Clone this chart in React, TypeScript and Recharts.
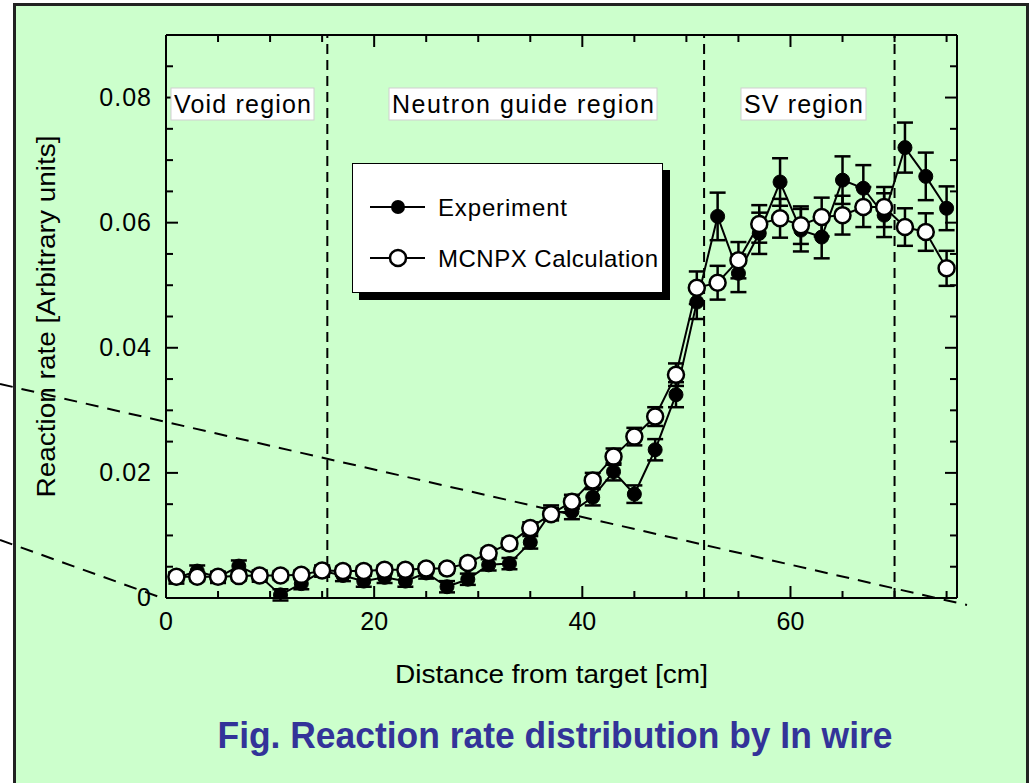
import React from 'react';
import { ComposedChart, Line, XAxis, YAxis, ErrorBar, ReferenceLine, Legend, Label } from 'recharts';

const FONT = "'Liberation Sans', Arial, Helvetica, sans-serif";

// Distance from target [cm]
const distance = [1, 3, 5, 7, 9, 11, 13, 15, 17, 19, 21, 23, 25, 27, 29, 31, 33, 35, 37, 39, 41, 43, 45, 47, 49, 51, 53, 55, 57, 59, 61, 63, 65, 67, 69, 71, 73, 75];

// Experiment (filled circles)
const experiment = [0.0032, 0.0043, 0.0033, 0.0051, 0.0035, 0.0005, 0.0023, 0.0043, 0.0036, 0.0027, 0.0033, 0.0027, 0.004, 0.0018, 0.003, 0.0053, 0.0055, 0.0089, 0.0137, 0.0138, 0.0161, 0.0202, 0.0166, 0.0237, 0.0325, 0.0473, 0.061, 0.0519, 0.0583, 0.0665, 0.0588, 0.0577, 0.0668, 0.0655, 0.0612, 0.072, 0.0674, 0.0623];
const experimentErr = [0.0009, 0.0009, 0.0009, 0.0009, 0.0009, 0.0009, 0.0009, 0.0009, 0.0009, 0.0009, 0.0009, 0.0009, 0.0009, 0.0009, 0.0009, 0.0009, 0.0009, 0.001, 0.0011, 0.0012, 0.0013, 0.0014, 0.0014, 0.0017, 0.002, 0.0027, 0.0038, 0.003, 0.0033, 0.0038, 0.0034, 0.0034, 0.0038, 0.0037, 0.0035, 0.004, 0.0038, 0.0035];

// MCNPX Calculation (open circles)
const calculation = [0.0034, 0.0034, 0.0034, 0.0035, 0.0036, 0.0036, 0.0037, 0.0044, 0.0043, 0.0043, 0.0045, 0.0045, 0.0047, 0.0047, 0.0056, 0.0072, 0.0087, 0.0112, 0.0134, 0.0154, 0.0188, 0.0226, 0.0258, 0.029, 0.0357, 0.0496, 0.0504, 0.054, 0.0598, 0.0607, 0.0596, 0.0609, 0.0612, 0.0625, 0.0625, 0.0593, 0.0585, 0.0527];
const calculationErr = [0.0007, 0.0007, 0.0007, 0.0007, 0.0007, 0.0007, 0.0007, 0.0007, 0.0007, 0.0007, 0.0007, 0.0007, 0.0007, 0.0007, 0.0007, 0.0007, 0.0008, 0.0009, 0.001, 0.0011, 0.0012, 0.0013, 0.0014, 0.0015, 0.0018, 0.0026, 0.0027, 0.0029, 0.003, 0.0031, 0.003, 0.0031, 0.0031, 0.0032, 0.0032, 0.003, 0.003, 0.0028];

// Region boundaries [cm]
const regionBounds = [15.5, 51.7, 70];

// Axis ticks
const xTicks = [0, 5, 10, 15, 20, 25, 30, 35, 40, 45, 50, 55, 60, 65, 70, 75];
const xMajor = [0, 20, 40, 60];
const yTicks = [0, 0.005, 0.01, 0.015, 0.02, 0.025, 0.03, 0.035, 0.04, 0.045, 0.05, 0.055, 0.06, 0.065, 0.07, 0.075, 0.08, 0.085, 0.09];
const yMajor = [0, 0.02, 0.04, 0.06, 0.08];
const yMajorLabels = ['0', '0.02', '0.04', '0.06', '0.08'];

const data = distance.map((d, i) => ({
  x: d,
  exp: experiment[i],
  expErr: experimentErr[i],
  calc: calculation[i],
  calcErr: calculationErr[i],
}));

const isMajorY = (v: number) => yMajor.some((m) => Math.abs(m - v) < 1e-9);
const yLabelOf = (v: number) => {
  const i = yMajor.findIndex((m) => Math.abs(m - v) < 1e-9);
  return i >= 0 ? yMajorLabels[i] : '';
};

const BottomTick = (props: any) => {
  const { x, y, payload } = props;
  const major = xMajor.includes(payload.value);
  return (
    <g>
      <line x1={x} x2={x} y1={y} y2={y - (major ? 12 : 7)} stroke="#000" strokeWidth={2} />
      {major && (
        <text x={x} y={y + 32} textAnchor="middle" fontSize={25} fontFamily={FONT} fill="#000">
          {payload.value}
        </text>
      )}
    </g>
  );
};

const TopTick = (props: any) => {
  const { x, y, payload } = props;
  const major = xMajor.includes(payload.value);
  return <line x1={x} x2={x} y1={y} y2={y + (major ? 12 : 7)} stroke="#000" strokeWidth={2} />;
};

const LeftTick = (props: any) => {
  const { x, y, payload } = props;
  const major = isMajorY(payload.value);
  return (
    <g>
      <line x1={x} x2={x + (major ? 12 : 7)} y1={y} y2={y} stroke="#000" strokeWidth={2} />
      {major && (
        <text x={x - 14} y={y + 8} textAnchor="end" fontSize={25} fontFamily={FONT} fill="#000" letterSpacing={1}>
          {yLabelOf(payload.value)}
        </text>
      )}
    </g>
  );
};

const RightTick = (props: any) => {
  const { x, y, payload } = props;
  const major = isMajorY(payload.value);
  return <line x1={x} x2={x - (major ? 12 : 7)} y1={y} y2={y} stroke="#000" strokeWidth={2} />;
};

const LegendBox = () => (
  <div
    style={{
      width: 311,
      height: 130,
      background: '#fff',
      border: '1.5px solid #000',
      boxShadow: '7px 7px 0 #000',
      boxSizing: 'border-box',
    }}
  >
    <svg width={308} height={127} style={{ display: 'block' }}>
      <line x1={17} x2={72} y1={43} y2={43} stroke="#000" strokeWidth={2} />
      <circle cx={45} cy={43} r={7} fill="#000" />
      <text x={85} y={52} fontSize={24} fontFamily={FONT} fill="#000" textLength={129} lengthAdjust="spacing">
        Experiment
      </text>
      <line x1={17} x2={72} y1={94} y2={94} stroke="#000" strokeWidth={2} />
      <circle cx={45} cy={94} r={8} fill="#fff" stroke="#000" strokeWidth={2.5} />
      <text x={85} y={103} fontSize={24} fontFamily={FONT} fill="#000" textLength={220} lengthAdjust="spacing">
        MCNPX Calculation
      </text>
    </svg>
  </div>
);

const XTitle = (props: any) => {
  const { viewBox } = props;
  const cx = viewBox.x + viewBox.width / 2 - 10;
  return (
    <text x={cx} y={viewBox.y + 85} textAnchor="middle" fontSize={26} fontFamily={FONT} fill="#000" textLength={313} lengthAdjust="spacingAndGlyphs">
      Distance from target [cm]
    </text>
  );
};

const YTitle = (props: any) => {
  const { viewBox } = props;
  const cy = viewBox.y + viewBox.height / 2;
  const cx = 55;
  return (
    <text
      x={cx}
      y={cy}
      transform={`rotate(-90 ${cx} ${cy})`}
      textAnchor="middle"
      fontSize={26}
      fontFamily={FONT}
      fill="#000"
      textLength={362}
      lengthAdjust="spacingAndGlyphs"
    >
      Reaction rate [Arbitrary units]
    </text>
  );
};

const regionLabels = [
  { text: 'Void region', x: 171, w: 143 },
  { text: 'Neutron guide region', x: 389, w: 268 },
  { text: 'SV region', x: 741, w: 125 },
];

export default function App() {
  return (
    <div style={{ position: 'absolute', left: 0, top: 0, width: 1032, height: 783, background: '#fff', overflow: 'hidden', fontFamily: FONT }}>
      <div
        style={{
          position: 'absolute',
          left: 13,
          top: 3,
          width: 1016,
          height: 820,
          background: '#ccffcc',
          border: '3px solid #222',
          boxSizing: 'border-box',
        }}
      />
      <svg width={1032} height={783} style={{ position: 'absolute', left: 0, top: 0 }}>
        <line x1={0} y1={384} x2={967} y2={605} stroke="#000" strokeWidth={2} strokeDasharray="13 9" />
        <line x1={0} y1={540} x2={165} y2={599} stroke="#000" strokeWidth={2} strokeDasharray="13 9" />
      </svg>
      <div style={{ position: 'absolute', left: 0, top: 0 }}>
        <ComposedChart width={1032} height={783} data={data} margin={{ top: 34, right: 74, bottom: 125, left: 106 }}>
          <XAxis
            xAxisId="bottom"
            dataKey="x"
            type="number"
            domain={[0, 76]}
            ticks={xTicks}
            interval={0}
            allowDataOverflow
            height={60}
            tickSize={0}
            tickMargin={0}
            tickLine={false}
            tick={<BottomTick />}
            axisLine={{ stroke: '#000', strokeWidth: 2 }}
          >
            <Label content={<XTitle />} />
          </XAxis>
          <XAxis
            xAxisId="top"
            orientation="top"
            dataKey="x"
            type="number"
            domain={[0, 76]}
            ticks={xTicks}
            interval={0}
            allowDataOverflow
            height={1}
            tickSize={0}
            tickMargin={0}
            tickLine={false}
            tick={<TopTick />}
            axisLine={{ stroke: '#000', strokeWidth: 2 }}
          />
          <YAxis
            yAxisId="left"
            type="number"
            domain={[0, 0.09]}
            ticks={yTicks}
            interval={0}
            allowDataOverflow
            width={60}
            tickSize={0}
            tickMargin={0}
            tickLine={false}
            tick={<LeftTick />}
            axisLine={{ stroke: '#000', strokeWidth: 2 }}
          >
            <Label content={<YTitle />} />
          </YAxis>
          <YAxis
            yAxisId="right"
            orientation="right"
            type="number"
            domain={[0, 0.09]}
            ticks={yTicks}
            interval={0}
            allowDataOverflow
            width={1}
            tickSize={0}
            tickMargin={0}
            tickLine={false}
            tick={<RightTick />}
            axisLine={{ stroke: '#000', strokeWidth: 2 }}
          />
          {regionBounds.map((b) => (
            <ReferenceLine key={b} xAxisId="bottom" yAxisId="left" x={b} stroke="#000" strokeWidth={2} strokeDasharray="10 6" />
          ))}
          <Line
            xAxisId="bottom"
            yAxisId="left"
            dataKey="exp"
            name="Experiment"
            stroke="#000"
            strokeWidth={2}
            dot={{ r: 7, fill: '#000', stroke: '#000', strokeWidth: 1 }}
            isAnimationActive={false}
          >
            <ErrorBar dataKey="expErr" width={8} stroke="#000" strokeWidth={2.5} direction="y" isAnimationActive={false} />
          </Line>
          <Line
            xAxisId="bottom"
            yAxisId="left"
            dataKey="calc"
            name="MCNPX Calculation"
            stroke="#000"
            strokeWidth={2}
            dot={{ r: 8, fill: '#fff', stroke: '#000', strokeWidth: 2.5 }}
            isAnimationActive={false}
          >
            <ErrorBar dataKey="calcErr" width={8} stroke="#000" strokeWidth={2.5} direction="y" isAnimationActive={false} />
          </Line>
          <Legend
            layout="horizontal"
            verticalAlign="middle"
            align="center"
            content={<LegendBox />}
            wrapperStyle={{ position: 'absolute', left: 352, top: 163, width: 'auto', height: 'auto' }}
          />
        </ComposedChart>
      </div>
      <svg width={1032} height={783} style={{ position: 'absolute', left: 0, top: 0, pointerEvents: 'none' }}>
        {regionLabels.map((r) => (
          <g key={r.text}>
            <rect x={r.x} y={88} width={r.w} height={32} fill="#fff" stroke="#cfcfcf" strokeWidth={1} />
            <text x={r.x + 3} y={113} fontSize={25} fontFamily={FONT} fill="#000" textLength={r.w - 6} lengthAdjust="spacing">
              {r.text}
            </text>
          </g>
        ))}
        <text
          x={555}
          y={748}
          textAnchor="middle"
          fontSize={37}
          fontWeight="bold"
          fontFamily={FONT}
          fill="#333399"
          textLength={675}
          lengthAdjust="spacingAndGlyphs"
        >
          Fig. Reaction rate distribution by In wire
        </text>
      </svg>
    </div>
  );
}
